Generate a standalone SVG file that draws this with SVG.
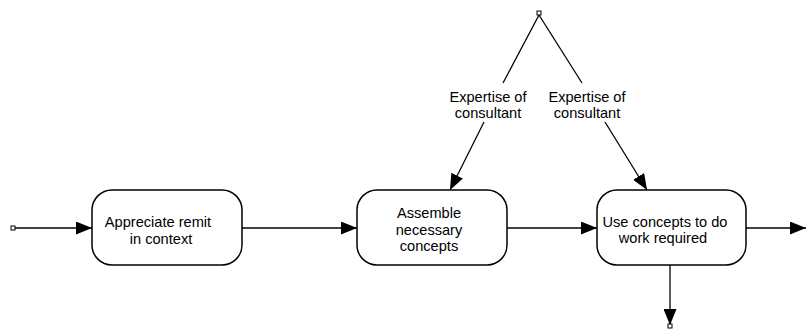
<svg xmlns="http://www.w3.org/2000/svg" width="806" height="331" viewBox="0 0 806 331">
<style>
.box{fill:#fff;stroke:#000;stroke-width:1.5}
.ln{fill:none;stroke:#000;stroke-width:1.3}
.t{font-family:"Liberation Sans",Arial,sans-serif;font-size:14.6px;fill:#000;text-anchor:middle}
.sq{fill:#fff;stroke:#000;stroke-width:1}
</style>
<defs>
<marker id="ah" viewBox="0 0 16 13" refX="16" refY="6.5" markerWidth="16" markerHeight="13" markerUnits="userSpaceOnUse" orient="auto">
<path d="M0,0 L16,6.5 L0,13 Z" fill="#000"/>
</marker>
</defs>
<rect width="806" height="331" fill="#fff"/>
<g id="connectors">
<path class="ln" d="M15,228 L92,228" marker-end="url(#ah)"/>
<path class="ln" d="M242,228 L357,228" marker-end="url(#ah)"/>
<path class="ln" d="M507,228 L597,228" marker-end="url(#ah)"/>
<path class="ln" d="M746,228 L806,228" marker-end="url(#ah)"/>
<path class="ln" d="M670,265 L670,325" marker-end="url(#ah)"/>
<path class="ln" d="M539,15 L503,83"/>
<path class="ln" d="M484,122 L450,190" marker-end="url(#ah)"/>
<path class="ln" d="M539,15 L582,83"/>
<path class="ln" d="M605,122 L647,190" marker-end="url(#ah)"/>
<rect class="sq" x="11" y="226" width="4" height="4"/>
<rect class="sq" x="537" y="11" width="4" height="4"/>
<rect class="sq" x="668" y="324" width="4" height="4"/>
<text class="t" x="488" y="102">Expertise of</text>
<text class="t" x="488" y="118">consultant</text>
<text class="t" x="587" y="102">Expertise of</text>
<text class="t" x="587" y="118">consultant</text>
</g>
<g id="n1">
<rect class="box" x="92" y="190" width="150" height="75" rx="20"/>
<text class="t" x="158" y="227">Appreciate remit</text>
<text class="t" x="161" y="244">in context</text>
</g>
<g id="n2">
<rect class="box" x="357" y="190" width="150" height="75" rx="20"/>
<text class="t" x="429" y="218">Assemble</text>
<text class="t" x="429" y="235">necessary</text>
<text class="t" x="429" y="251">concepts</text>
</g>
<g id="n3">
<rect class="box" x="597" y="190" width="149" height="75" rx="20"/>
<text class="t" x="665" y="227">Use concepts to do</text>
<text class="t" x="663" y="243">work required</text>
</g>
</svg>
